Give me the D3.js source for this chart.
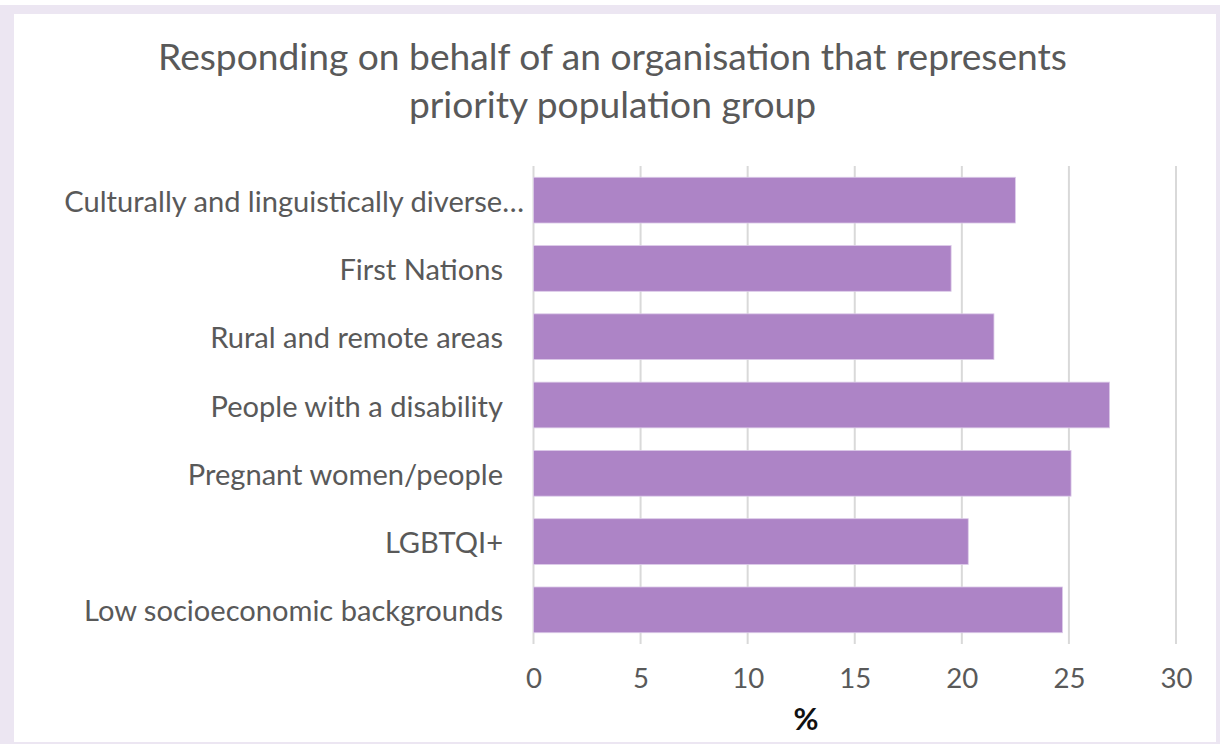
<!DOCTYPE html>
<html>
<head>
<meta charset="utf-8">
<script src="https://cdn.jsdelivr.net/npm/d3@7"></script>
<style>
  html, body { margin: 0; padding: 0; background: #ffffff; }
  svg { display: block; font-family: Lato, "Open Sans", sans-serif; }
</style>
</head>
<body>
<svg id="chart" width="1220" height="744"></svg>
<script>
// Share of respondents answering on behalf of an organisation, by priority group
const categories = [
  "Culturally and linguistically diverse…",
  "First Nations",
  "Rural and remote areas",
  "People with a disability",
  "Pregnant women/people",
  "LGBTQI+",
  "Low socioeconomic backgrounds"
];
const values = [22.5, 19.5, 21.5, 26.9, 25.1, 20.3, 24.7];
const xTicks = [0, 5, 10, 15, 20, 25, 30];
const titleLines = [
  "Responding on behalf of an organisation that represents",
  "priority population group"
];
const xAxisTitle = "%";

const svg = d3.select("#chart");
const W = 1220, H = 744;

// Lavender frame around the white chart area
svg.append("rect").attr("x", 0).attr("y", 5).attr("width", W).attr("height", H - 5)
  .attr("fill", "#ece6f2");
svg.append("rect").attr("x", 14).attr("y", 14).attr("width", 1202).attr("height", 728)
  .attr("fill", "#ffffff");

const plot = { left: 533.5, right: 1176, top: 166, bottom: 644 };

const x = d3.scaleLinear().domain([0, 30]).range([plot.left, plot.right]);
const y = d3.scaleBand().domain(categories).range([plot.top, plot.bottom]).paddingInner(0.33).paddingOuter(0.165);

// Fit a text element to a given width by adjusting its font size
function fitWidth(sel, target, base) {
  sel.attr("font-size", base);
  const w = sel.node().getComputedTextLength();
  const size = base * target / w;
  sel.attr("font-size", size);
  return size;
}

// Title
const titleCenters = [55, 103];
const titleWidths = [909, 410];
const titleSel = svg.append("g").selectAll("text").data(titleLines).join("text")
  .attr("x", 612.5).attr("y", (d, i) => titleCenters[i])
  .attr("text-anchor", "middle").attr("dominant-baseline", "central")
  .attr("fill", "#595959").text(d => d);
const tSize = fitWidth(d3.select(titleSel.nodes()[0]), titleWidths[0], 32);
titleSel.attr("font-size", tSize);

// Vertical gridlines
svg.append("g").selectAll("line").data(xTicks).join("line")
  .attr("x1", d => x(d)).attr("x2", d => x(d))
  .attr("y1", plot.top).attr("y2", plot.bottom)
  .attr("stroke", "#d9d9d9").attr("stroke-width", 2);

// Bars
svg.append("g").selectAll("rect").data(categories).join("rect")
  .attr("x", x(0)).attr("y", d => y(d))
  .attr("width", (d, i) => x(values[i]) - x(0))
  .attr("height", y.bandwidth())
  .attr("fill", "#ad84c6")
  .attr("stroke", "#dccbe9").attr("stroke-width", 0.8);

// Category labels
const labels = svg.append("g").selectAll("text").data(categories).join("text")
  .attr("x", d => d.endsWith("…") ? 524 : 503)
  .attr("y", d => y(d) + y.bandwidth() / 2)
  .attr("text-anchor", "end").attr("dominant-baseline", "central")
  .attr("fill", "#595959").text(d => d);
const longest = labels.filter(d => d === "Low socioeconomic backgrounds");
const lSize = fitWidth(longest, 419, 24);
labels.attr("font-size", lSize);

// X axis tick labels
const axis = d3.axisBottom(x).tickValues(xTicks).tickSize(0).tickPadding(0).tickFormat(d3.format("d"));
const axisG = svg.append("g").attr("transform", `translate(0, 677)`).call(axis);
axisG.select(".domain").remove();
axisG.selectAll("text")
  .attr("y", 0).attr("dy", null)
  .attr("dominant-baseline", "central")
  .attr("font-family", "Lato, 'Open Sans', sans-serif")
  .attr("font-size", lSize * 0.95)
  .attr("fill", "#595959");

// Axis title
svg.append("text").attr("x", 806).attr("y", 718)
  .attr("text-anchor", "middle").attr("dominant-baseline", "central")
  .attr("font-size", lSize * 1.05).attr("font-weight", "bold")
  .attr("fill", "#111111").text(xAxisTitle);
</script>
</body>
</html>
